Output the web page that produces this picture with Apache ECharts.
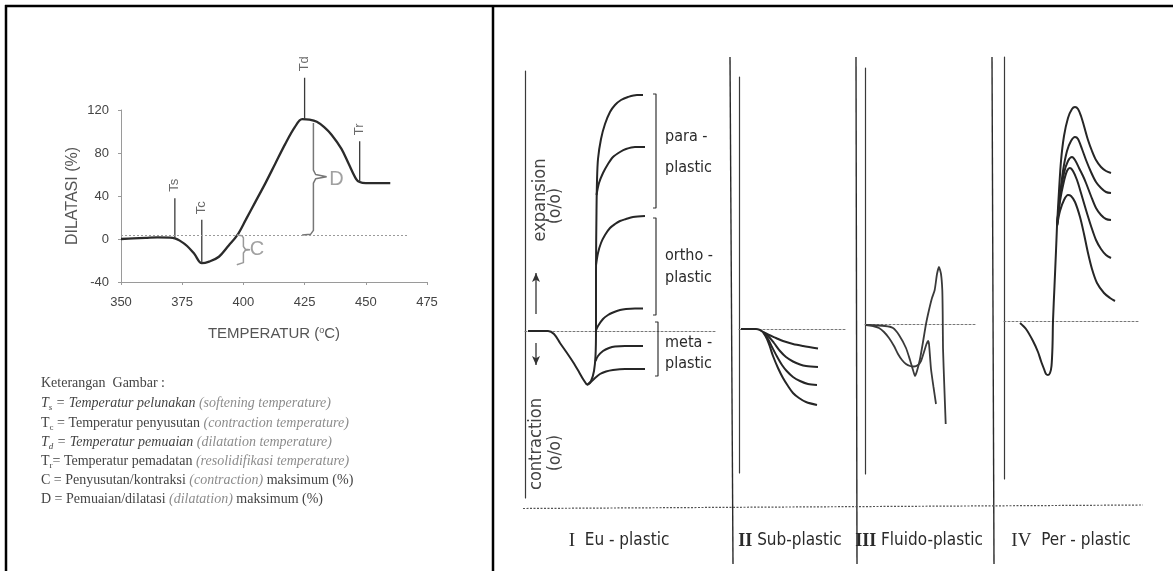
<!DOCTYPE html>
<html><head><meta charset="utf-8">
<script src="https://cdn.jsdelivr.net/npm/echarts/dist/echarts.min.js"></script>
<style>html,body{margin:0;padding:0;background:#fff}#c{width:1173px;height:571px}</style>
</head><body><div id="c"></div>
<script>
// ---------- Left chart data (temperature °C, dilatation %) ----------
const curveTemp = [350,355,360,365,370,372,374,377,380,383,386,390,394,397.5,401,405,409,413,417,421,424,427,430,433,436,440,443,446,447.5,450,455,460];
const curveDil  = [0,0.5,1,1.5,1.2,0.5,-1.5,-6.5,-14,-22.5,-21,-16.5,-6,3.5,18,35,52,70,88,104,111.5,111,109,104,97,84,70,56,53,52,52,52];
const markerNames = ['Ts','Tc','Td','Tr'];
const markerTemp  = [372,383,425,447.5];
const markerFrom  = [0.5,-22.5,111.5,53];
const markerTo    = [38,18,150,91];
const markerLabel = [50,29,163,102];
const refLevel = 3.7;
const refRange = [350,467];
const braceD = [[428.6,108],[428.6,64],[429.5,60],[434,58],[429.5,56],[428.6,52],[428.6,8],[427.5,4.5],[424,3.7]];
const braceC = [[397.3,3.7],[399.5,3],[400,1],[400,-7],[400.8,-9.5],[402.7,-10],[400.8,-10.5],[400,-13],[400,-22],[399.5,-23.5],[397.3,-24]];
const braceLabels = [['D',438,55],['C',405.5,-10]];

// ---------- Right panel data (relative time, expansion/contraction) ----------
const euCommon = [[3,0],[23,0],[29,-3],[35,-12],[42,-22],[48,-31],[54,-41],[58,-48],[62,-54]];
const euTrunk  = [[62,-54],[66,-50],[69,-40],[70.5,-25],[71,0],[71,60],[71.5,120],[72,150],[73,172],[76,192],[80,207],[85,219],[90,226],[96,231],[103,234],[112,236],[118,236]];
const euPara   = [[71.5,136],[74,148],[78,158],[83,167],[88,174],[95,179],[101,182],[110,184],[120,184]];
const euOrtho  = [[71,66],[73,78],[76,88],[80,96],[85,103],[90,107],[95,110],[101,112],[108,114],[120,115]];
const euMetaA  = [[70.8,0],[73,5],[78,12],[83,16],[88,18.5],[95,21],[101,22],[110,22.5],[118,22.5]];
const euMetaB  = [[70.5,-30],[73,-25],[78,-20],[84,-17],[90,-15.5],[100,-15],[118,-15]];
const euMetaC  = [[62,-54],[65,-52],[70,-47],[75,-43],[81,-40.5],[88,-39],[100,-38],[120,-38]];
const bracketPara  = [[128,237],[131,237],[131,123],[128,123]];
const bracketOrtho = [[128,113],[131,113],[131,16],[128,16]];
const bracketMeta  = [[130,9],[133,9],[133,-45],[130,-45]];
const arrowUp   = [[11,17],[11,58]];
const arrowDown = [[11,-12],[11,-34]];

const subCommon = [[2,0],[17,0],[21,-1],[24,-3]];
const subA = [[24,-3],[30,-6],[37,-9],[44,-12],[54,-15],[64,-17],[79,-19.5]];
const subB = [[24,-3],[30,-8],[35,-14],[41,-22],[47,-28],[54,-32.5],[61,-35.5],[67,-37],[79,-38]];
const subC = [[24,-3],[29,-10],[33,-18],[37.7,-27],[43,-36],[47.7,-42],[54,-48],[61,-52],[69,-55],[78,-56]];
const subD = [[24,-3],[28,-10],[31,-18],[34,-27],[39,-39],[44,-49],[49,-57],[54,-64],[60,-69],[67,-73],[78,-76]];

const fluA = [[1,-1],[8,-2],[14,-4],[19,-8],[24,-14],[29,-22],[33,-30],[37,-36],[41,-40],[45,-42],[49,-42.5],[53,-41],[56,-37],[59,-28],[61.5,-20],[63,-17],[64,-20],[66,-45],[68.5,-63],[71,-80]];
const fluB = [[1,-1],[20,-2],[28,-4],[34,-11],[41,-24],[45,-36],[48,-46],[50,-52],[52,-47],[55,-35],[58,-18],[61,0],[64,14],[67,26],[69.7,34],[72,50],[74,57],[76,50],[77.3,34],[77.7,10],[78,-24],[79.3,-62],[80.7,-100]];

const perCommon = [[16,-2],[22,-8],[29,-20],[34,-31],[37,-40],[40,-48],[42,-53],[44,-54],[46,-52],[47.5,-45],[48.5,-25],[49,0],[50.5,35],[52,70],[53,95]];
const perA = [[53,95],[55,130],[57,160],[60,185],[64,203],[68,212],[71,214],[74,212],[77,205],[80,195],[84,181],[88,170],[92,161],[97,154],[102,150],[107,148]];
const perB = [[53,95],[56,125],[59,150],[63,170],[67,180],[71,184],[74,182],[78,172],[82,161],[87,149],[92,139],[97,133],[102,129],[107,128]];
const perC = [[53,95],[56,125],[60,148],[64,160],[68,164],[71,161],[75,153],[79,145],[82,138],[87,125],[92,113],[97,106],[102,102],[107,101]];
const perD = [[53,95],[56,120],[60,140],[63,150],[66,153],[69,150],[73,141],[77,128],[82,111],[87,95],[92,81],[97,72],[102,66],[107,63]];
const perE = [[53,95],[56,110],[60,121],[64,126],[67,125],[71,119],[76,104],[80,87],[84,68],[88,52],[93,38],[100,28],[106,23],[111,20]];

const panelLabels = ['{r|I}  Eu - plastic','{rb|II} Sub-plastic','{rb|III} Fluido-plastic','{r|IV}  Per - plastic'];

const legendLines = [
  '{n|Keterangan  Gambar :}',
  '{i|T}{si|s}{i| = Temperatur pelunakan }{g|(softening temperature)}',
  '{n|T}{sn|c}{n| = Temperatur penyusutan }{g|(contraction temperature)}',
  '{i|T}{si|d}{i| = Temperatur pemuaian }{g|(dilatation temperature)}',
  '{n|T}{sn|r}{n|= Temperatur pemadatan }{g|(resolidifikasi temperature)}',
  '{n|C = Penyusutan/kontraksi }{g|(contraction)}{n| maksimum (%)}',
  '{n|D = Pemuaian/dilatasi }{g|(dilatation)}{n| maksimum (%)}'
];

// ---------- build ----------
const chart = echarts.init(document.getElementById('c'));
const INK = '#262626';
const CLEAR = 'rgba(0,0,0,0)';
function ln(grid, data, extra){
  return Object.assign({type:'line', xAxisIndex:grid, yAxisIndex:grid, data:data, symbol:'none', showSymbol:false,
    silent:true, smooth:0.3, lineStyle:{color:INK, width:2}}, extra||{});
}
const series = [];
series.push(ln(0, curveTemp.map((t,i)=>[t,curveDil[i]]), {lineStyle:{color:'#2b2b2b', width:2.3}, smooth:0.35,
  markLine:{symbol:'none', silent:true, label:{show:false}, lineStyle:{color:'#9a9a9a', type:[2,2], width:1},
    data:[[{coord:[refRange[0],refLevel]},{coord:[refRange[1],refLevel]}]]}}));
markerNames.forEach((n,i)=>{
  series.push(ln(0, [[markerTemp[i],markerFrom[i]],[markerTemp[i],markerTo[i]]], {smooth:false, clip:false, lineStyle:{color:'#3a3a3a', width:1.3}}));
});
series.push({type:'scatter', xAxisIndex:0, yAxisIndex:0, silent:true, clip:false, symbolSize:2, itemStyle:{color:CLEAR},
  data: markerNames.map((n,i)=>({name:n, value:[markerTemp[i], markerLabel[i]]})),
  label:{show:true, position:'inside', rotate:90, formatter:'{b}', color:'#444', fontSize:13, fontFamily:'Liberation Sans'}});
series.push(ln(0, braceD, {smooth:false, lineStyle:{color:'#777', width:1.5}}));
series.push(ln(0, braceC, {smooth:false, lineStyle:{color:'#999', width:1.5}}));
series.push({type:'scatter', xAxisIndex:0, yAxisIndex:0, silent:true, symbolSize:2, itemStyle:{color:CLEAR},
  data: braceLabels.map(b=>({name:b[0], value:[b[1],b[2]]})),
  label:{show:true, position:'inside', formatter:'{b}', color:'#8a8a8a', fontSize:20, fontFamily:'Liberation Sans'}});

// Panel I
[euCommon, euTrunk, euPara, euOrtho, euMetaA, euMetaB, euMetaC].forEach(d=>series.push(ln(1,d)));
[bracketPara, bracketOrtho, bracketMeta].forEach(d=>series.push(ln(1,d,{smooth:false, lineStyle:{color:'#333', width:1.2}})));
series.push(ln(1, [{value:arrowUp[0]},{value:arrowUp[1], symbol:'arrow', symbolSize:[6,9]}], {smooth:false, showSymbol:true, symbol:'none', lineStyle:{color:'#333', width:1.3}, itemStyle:{color:'#333'}}));
series.push(ln(1, [{value:arrowDown[0]},{value:arrowDown[1], symbol:'arrow', symbolSize:[6,9], symbolRotate:180}], {smooth:false, showSymbol:true, symbol:'none', lineStyle:{color:'#333', width:1.3}, itemStyle:{color:'#333'}}));
// Panel II
[subCommon, subA, subB, subC, subD].forEach(d=>series.push(ln(2,d)));
// Panel III
[fluA, fluB].forEach(d=>series.push(ln(3,d,{smooth:0.2, lineStyle:{color:'#3a3a3a', width:1.8}})));
// Panel IV
[perCommon, perA, perB, perC, perD, perE].forEach(d=>series.push(ln(4,d)));

const panels = [
  {left:525, top:71, width:190, height:427, ymin:-167, ymax:260},
  {left:739, top:77, width:106, height:396, ymin:-144, ymax:252},
  {left:865, top:68, width:111, height:406, ymin:-150, ymax:256},
  {left:1004, top:57, width:136, height:422, ymin:-158, ymax:264}
];
const grids = [{left:121, top:110, width:306, height:172}];
const xAxes = [{type:'value', gridIndex:0, min:350, max:475, interval:25,
  axisLine:{show:true, onZero:false, lineStyle:{color:'#9a9a9a', width:1}},
  axisTick:{show:true, length:3, lineStyle:{color:'#9a9a9a'}},
  axisLabel:{color:'#444', fontSize:13, margin:14, fontFamily:'Liberation Sans'},
  splitLine:{show:false},
  name:'TEMPERATUR ({sup|o}C)', nameLocation:'middle', nameGap:44,
  nameTextStyle:{color:'#555', fontSize:15, fontFamily:'Liberation Sans', rich:{sup:{fontSize:9, color:'#555', verticalAlign:'top', fontFamily:'Liberation Sans'}}}
}];
const yAxes = [{type:'value', gridIndex:0, min:-40, max:120, interval:40,
  axisLine:{show:true, lineStyle:{color:'#9a9a9a', width:1}},
  axisTick:{show:true, length:3, lineStyle:{color:'#9a9a9a'}},
  axisLabel:{color:'#444', fontSize:13, margin:12, fontFamily:'Liberation Sans'},
  splitLine:{show:false},
  name:'DILATASI (%)', nameLocation:'middle', nameGap:40, nameRotate:90,
  nameTextStyle:{color:'#555', fontSize:16, fontFamily:'Liberation Sans'}
}];
panels.forEach((p,i)=>{
  grids.push({left:p.left, top:p.top, width:p.width, height:p.height});
  xAxes.push({type:'value', gridIndex:i+1, min:0, max:p.width,
    axisLine:{show:true, onZero:true, lineStyle:{color:'#777', type:[2,2], width:1}},
    axisTick:{show:false}, axisLabel:{show:false}, splitLine:{show:false}});
  yAxes.push({type:'value', gridIndex:i+1, min:p.ymin, max:p.ymax,
    axisLine:{show:true, onZero:false, lineStyle:{color:'#3a3a3a', width:1.2}},
    axisTick:{show:false}, axisLabel:{show:false}, splitLine:{show:false}});
});

// graphics: frame, dividers, texts
const G = [];
function gl(x1,y1,x2,y2,w,c,dash){ G.push({type:'line', silent:true, shape:{x1,y1,x2,y2}, style:{stroke:c||'#000', lineWidth:w||2, lineDash:dash||null}}); }
gl(5,6,1173,6,2.5); gl(6,5,6,571,2.5); gl(493,5,493,571,2.5);
gl(730,57,733,564,1.4,'#2a2a2a'); gl(856,57,857,564,1.4,'#2a2a2a'); gl(992,57,994,564,1.4,'#2a2a2a');
gl(523,508.5,1143,505,1.2,'#555',[2,1.5]);

const SANS = "'DejaVu Sans Condensed','DejaVu Sans',sans-serif";
function gt(x,y,text,opt){
  G.push({type:'text', silent:true, x:x, y:y, rotation:(opt&&opt.rot)||0,
    style:Object.assign({text:text, fill:'#2a2a2a', fontSize:16, fontFamily:SANS, align:'left', verticalAlign:'middle'}, (opt&&opt.style)||{})});
}
gt(665,137,'para -'); gt(665,168,'plastic');
gt(665,256,'ortho -'); gt(665,278,'plastic');
gt(665,343,'meta -'); gt(665,364,'plastic');
gt(540,200,'expansion',{rot:Math.PI/2, style:{align:'center', fontSize:18, fill:'#444'}});
gt(556,206,'(o/o)',{rot:Math.PI/2, style:{align:'center', fontSize:17, fill:'#444'}});
gt(536,444,'contraction',{rot:Math.PI/2, style:{align:'center', fontSize:18, fill:'#444'}});
gt(556,453,'(o/o)',{rot:Math.PI/2, style:{align:'center', fontSize:17, fill:'#444'}});
const labelX = [619,790,919,1071];
panelLabels.forEach((t,i)=>gt(labelX[i],541,t,{style:{align:'center', fontSize:17,
  rich:{r:{fontFamily:'Liberation Serif', fontSize:19, fill:'#2a2a2a'}, rb:{fontFamily:'Liberation Serif', fontWeight:'bold', fontSize:18, fill:'#2a2a2a'}}}}));

const SERIF = "'Liberation Serif','DejaVu Serif',serif";
const legRich = {
  n:{fontFamily:SERIF, fontSize:14, fill:'#444'},
  i:{fontFamily:SERIF, fontSize:14, fontStyle:'italic', fill:'#444'},
  g:{fontFamily:SERIF, fontSize:14, fontStyle:'italic', fill:'#8c8c8c'},
  sn:{fontFamily:SERIF, fontSize:9, fill:'#444', verticalAlign:'bottom', lineHeight:18},
  si:{fontFamily:SERIF, fontSize:9, fontStyle:'italic', fill:'#444', verticalAlign:'bottom', lineHeight:18}
};
const legY = [383,403,423,442,461,480,499];
legendLines.forEach((t,i)=>G.push({type:'text', silent:true, x:41, y:legY[i],
  style:{text:t, rich:legRich, fontFamily:SERIF, fontSize:14, fill:'#444', align:'left', verticalAlign:'middle'}}));

chart.setOption({animation:false, backgroundColor:'#fff', grid:grids, xAxis:xAxes, yAxis:yAxes, series:series, graphic:G});
</script></body></html>
